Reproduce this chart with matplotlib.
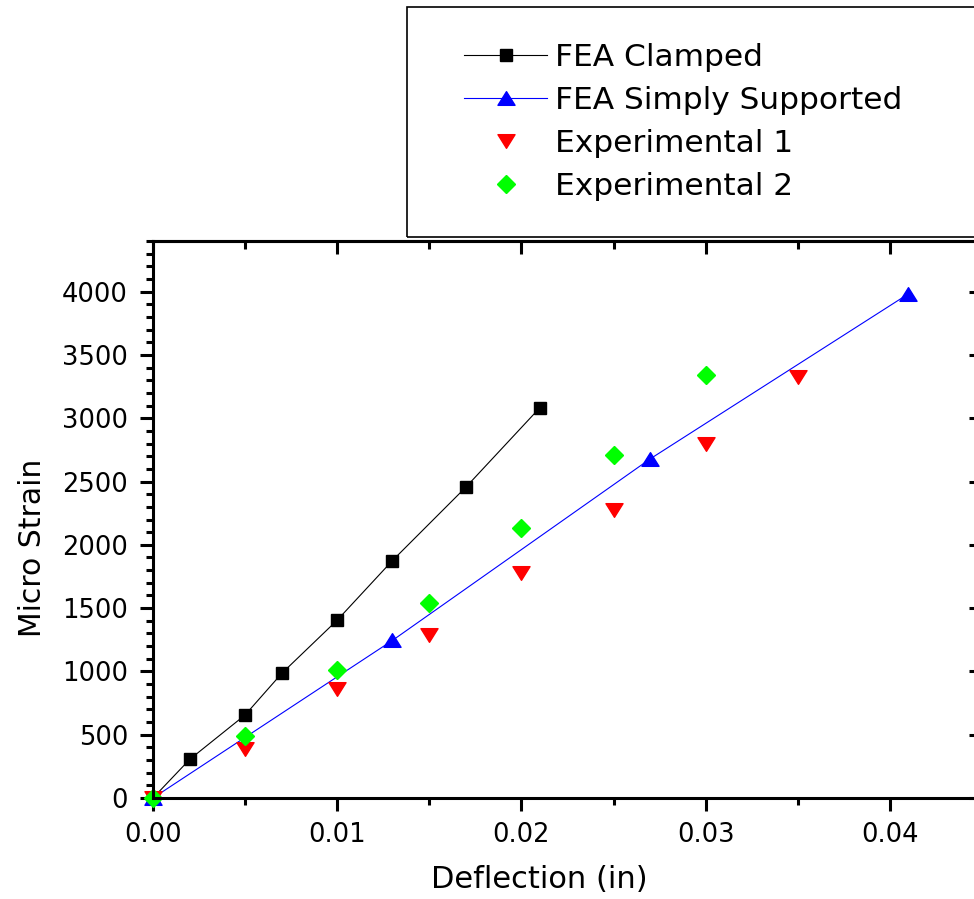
import matplotlib
matplotlib.use("Agg")
import matplotlib.pyplot as plt
from matplotlib.patches import Rectangle
from matplotlib.path import Path
from matplotlib.ticker import MultipleLocator, FormatStrFormatter

plt.rcParams['font.family'] = ['DejaVu Sans']

# ---- data ----
clamped_x = [0.0, 0.002, 0.005, 0.007, 0.010, 0.013, 0.017, 0.021]
clamped_y = [0, 306, 656, 986, 1405, 1876, 2458, 3083]

simply_x = [0.0, 0.013, 0.027, 0.041]
simply_y = [0, 1245, 2680, 3982]

exp1_x = [0.0, 0.005, 0.010, 0.015, 0.020, 0.025, 0.030, 0.035]
exp1_y = [0, 385, 860, 1289, 1779, 2275, 2796, 3325]

exp2_x = [0.0, 0.005, 0.010, 0.015, 0.020, 0.025, 0.030]
exp2_y = [0, 490, 1012, 1544, 2132, 2708, 3344]

labels = ["FEA Clamped", "FEA Simply Supported", "Experimental 1", "Experimental 2"]
x_label = "Deflection (in)"
y_label = "Micro Strain"

# ---- figure ----
W, H = 974, 899
fig = plt.figure(figsize=(W / 100, H / 100), dpi=100)
ax = fig.add_axes([153 / W, (H - 798) / H, (982 - 153) / W, (798 - 241) / H])

up_tri = Path([(0, 0.8), (-1, -0.8), (1, -0.8), (0, 0.8)],
              [Path.MOVETO, Path.LINETO, Path.LINETO, Path.CLOSEPOLY])
down_tri = Path([(0, -0.8), (-1, 0.8), (1, 0.8), (0, -0.8)],
                [Path.MOVETO, Path.LINETO, Path.LINETO, Path.CLOSEPOLY])

ax.plot(clamped_x, clamped_y, color='black', lw=0.8, marker='s', ms=9.3,
        mfc='black', mec='black', label=labels[0], zorder=3, clip_on=False)
ax.plot(simply_x, simply_y, color='#0000ff', lw=0.8, marker=up_tri, ms=12.3,
        mfc='#0000ff', mec='#0000ff', label=labels[1], zorder=3, clip_on=False)
ax.plot(exp1_x, exp1_y, ls='none', marker=down_tri, ms=12.3,
        mfc='#ff0000', mec='#ff0000', label=labels[2], zorder=4, clip_on=False)
ax.plot(exp2_x, exp2_y, ls='none', marker='D', ms=9.3,
        mfc='#00ff00', mec='#00ff00', label=labels[3], zorder=5, clip_on=False)

ax.set_xlim(0, 0.045)
ax.set_ylim(0, 4400)

ax.xaxis.set_major_locator(MultipleLocator(0.01))
ax.xaxis.set_minor_locator(MultipleLocator(0.005))
ax.xaxis.set_major_formatter(FormatStrFormatter('%.2f'))
ax.yaxis.set_major_locator(MultipleLocator(500))
ax.yaxis.set_minor_locator(MultipleLocator(100))

for sp in ax.spines.values():
    sp.set_linewidth(2.2)
    sp.set_zorder(6)

ax.tick_params(axis='both', which='major', direction='out', length=9.5, width=2.2,
               labelsize=18.5, top=False, right=False)
ax.tick_params(axis='both', which='minor', direction='out', length=5, width=2.2,
               top=False, right=False)
ax.tick_params(axis='y', which='major', pad=8.5)
ax.tick_params(axis='x', which='major', pad=8)

# top / right inward ticks
topx = ax.secondary_xaxis('top')
topx.xaxis.set_major_locator(MultipleLocator(0.01))
topx.xaxis.set_minor_locator(MultipleLocator(0.005))
topx.tick_params(which='major', direction='in', length=9, width=2.2, labeltop=False)
topx.tick_params(which='minor', direction='in', length=5.5, width=2.2)
topx.spines['top'].set_linewidth(2.2)

righty = ax.secondary_yaxis('right')
righty.yaxis.set_major_locator(MultipleLocator(500))
righty.yaxis.set_minor_locator(MultipleLocator(100))
righty.tick_params(which='major', direction='in', length=9.5, width=2.2, labelright=False)
righty.tick_params(which='minor', direction='in', length=5, width=2.2)
righty.spines['right'].set_linewidth(2.2)

ax.set_xlabel(x_label, fontsize=22)
ax.set_ylabel(y_label, fontsize=21.5)
ax.xaxis.set_label_coords((539 - 153) / 829, -(865 - 798) / 557)
ax.yaxis.set_label_coords(-(153 - 47) / 829, (798 - 547.5) / 557)

# legend frame
fig.patches.append(Rectangle((407 / W, 1 - 237 / H), (990 - 407) / W, (237 - 7) / H,
                             transform=fig.transFigure, fill=False,
                             edgecolor='black', lw=1.2, zorder=10))
leg = ax.legend(loc='center left', bbox_to_anchor=(464 / W, 1 - 122 / H),
                bbox_transform=fig.transFigure, frameon=False, fontsize=22.5,
                handlelength=2.66, handletextpad=0.24, labelspacing=0.45,
                borderpad=0, borderaxespad=0)

fig.savefig('out.png', dpi=100)
